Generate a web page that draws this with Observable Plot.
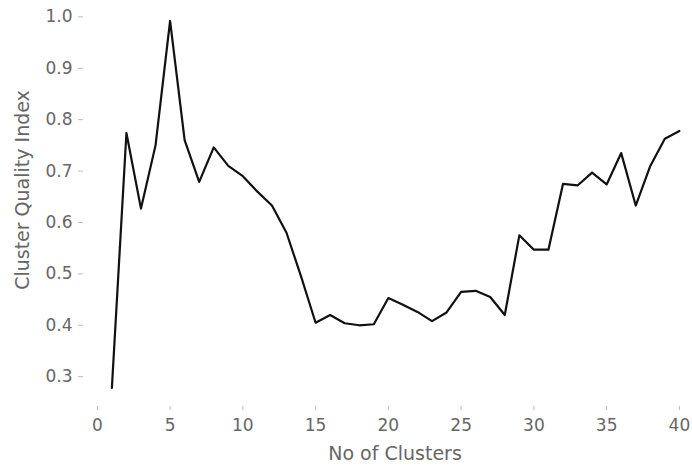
<!DOCTYPE html>
<html>
<head>
<meta charset="utf-8">
<script src="https://cdn.jsdelivr.net/npm/d3@7"></script>
<script src="https://cdn.jsdelivr.net/npm/@observablehq/plot@0.6"></script>
<style>
  html, body { margin: 0; padding: 0; background: #fff; }
</style>
</head>
<body>
<div id="chart"></div>
<script>
const clusters = d3.range(1, 41);
const quality = [
  0.278, 0.774, 0.627, 0.750, 0.992, 0.760, 0.679, 0.746, 0.710, 0.690,
  0.660, 0.633, 0.580, 0.495, 0.405, 0.420, 0.404, 0.400, 0.402, 0.453,
  0.440, 0.426, 0.408, 0.425, 0.465, 0.467, 0.455, 0.420, 0.575, 0.547,
  0.547, 0.675, 0.672, 0.697, 0.674, 0.735, 0.633, 0.710, 0.763, 0.778
];
const xTicks = [0, 5, 10, 15, 20, 25, 30, 35, 40];
const yTicks = [0.3, 0.4, 0.5, 0.6, 0.7, 0.8, 0.9, 1.0];
const xLabel = "No of Clusters";
const yLabel = "Cluster Quality Index";

const data = clusters.map((c, i) => ({c, q: quality[i]}));

const chart = Plot.plot({
  width: 692,
  height: 468,
  marginLeft: 83,
  marginRight: 0,
  marginTop: 3,
  marginBottom: 62,
  style: {fontFamily: "DejaVu Sans", fontSize: "17px", background: "#fff"},
  x: {domain: [-0.95, 40.9]},
  y: {domain: [0.242, 1.026]},
  marks: [
    Plot.axisX({ticks: xTicks, tickSize: 4, tickPadding: 8, tickFormat: d3.format("d"),
      stroke: "#bbb", fill: "#666", label: null, fontSize: 17}),
    Plot.axisY({ticks: yTicks, tickSize: 5, tickPadding: 6, tickFormat: d3.format(".1f"),
      stroke: "#bbb", fill: "#666", label: null, fontSize: 17}),
    Plot.line(data, {x: "c", y: "q", stroke: "#111", strokeWidth: 2.2}),
    Plot.text([xLabel], {frameAnchor: "bottom", dx: 7, dy: 47, fill: "#666", fontSize: 19, lineAnchor: "middle", textAnchor: "middle"}),
    Plot.text([yLabel], {frameAnchor: "left", dx: -61, dy: -15, rotate: -90, fill: "#666", fontSize: 19, lineAnchor: "middle", textAnchor: "middle"})
  ]
});
document.getElementById("chart").appendChild(chart);
</script>
</body>
</html>
